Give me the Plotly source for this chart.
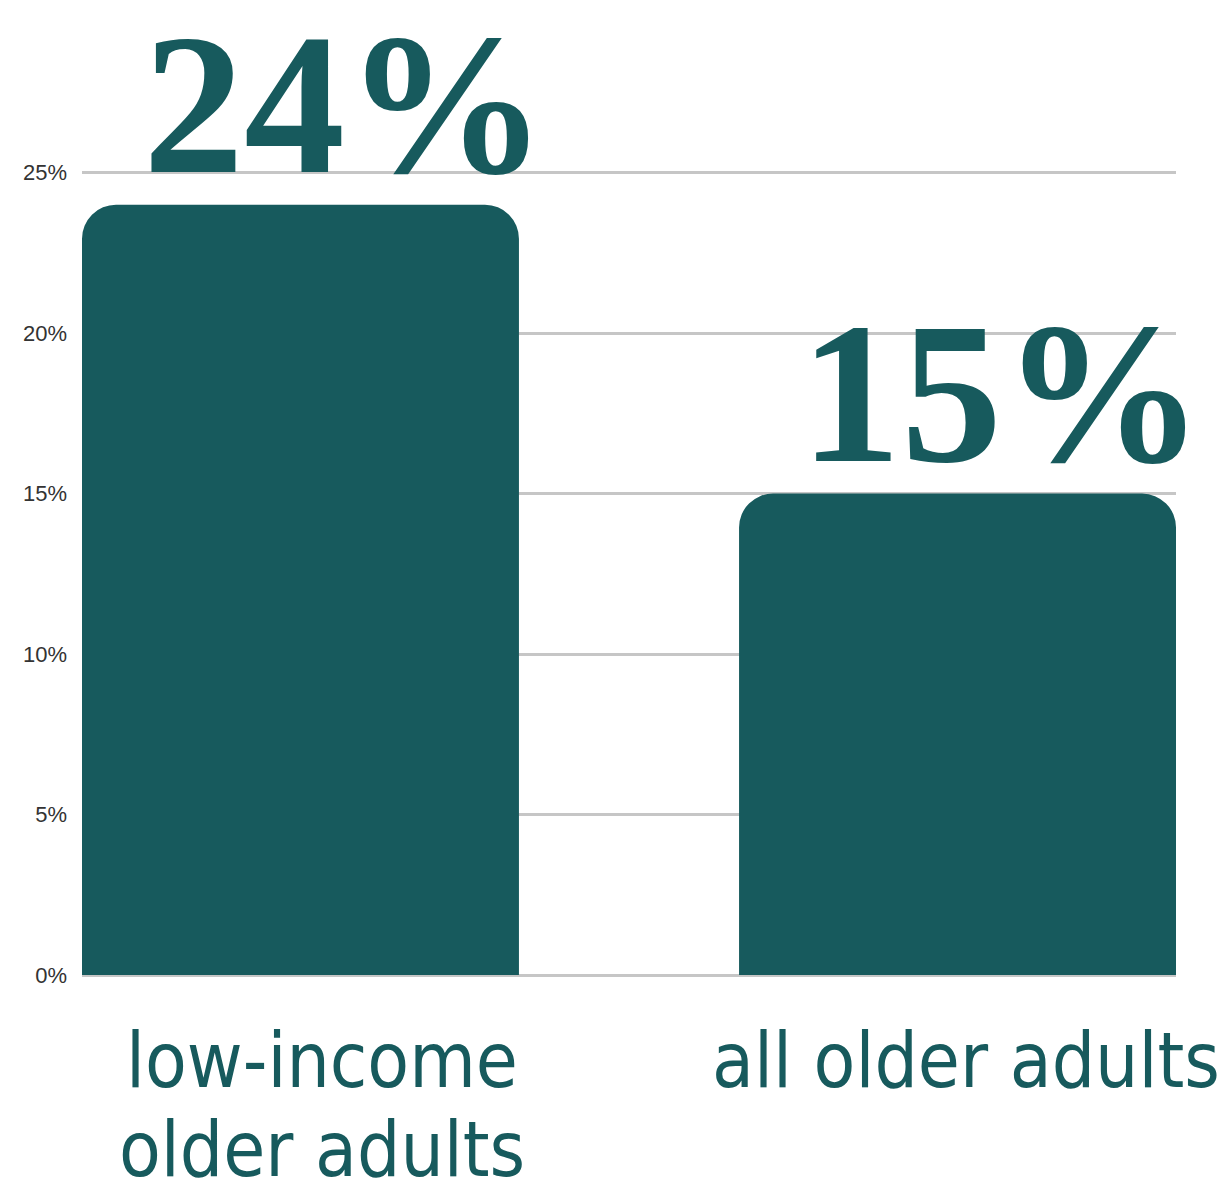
import plotly.graph_objects as go

# Share of older adults, by group (percent)
categories = ["low-income older adults", "all older adults"]
values = [24, 15]
label_lines = [["low-income", "older adults"], ["all older adults"]]
y_ticks = [0, 5, 10, 15, 20, 25]
y_tick_labels = ["0%", "5%", "10%", "15%", "20%", "25%"]

TEAL = "#175a5d"
GRID = "#c6c6c6"
BAR_WIDTH = 0.665  # in category units; bars run flush to the plot edges

fig = go.Figure(
    go.Bar(
        x=list(range(len(categories))),
        y=values,
        width=BAR_WIDTH,
        marker=dict(color=TEAL, cornerradius=34, line=dict(width=0)),
        hovertext=categories,
        showlegend=False,
    )
)

annotations = []
half = BAR_WIDTH / 2
for i, v in enumerate(values):
    # large value label, left-aligned near the bar's left edge
    annotations.append(dict(
        x=i - half, y=v, xref="x", yref="y",
        text=f"{v}%", showarrow=False, borderpad=0,
        xanchor="left", yanchor="bottom", xshift=60, yshift=-12,
        font=dict(family="Liberation Serif", size=202, color=TEAL, weight="bold"),
    ))
    # category label under the bar, one annotation per line
    for j, line in enumerate(label_lines[i]):
        annotations.append(dict(
            x=i, y=0, xref="x", yref="paper",
            text=line, showarrow=False, borderpad=0,
            xanchor="center", yanchor="top", xshift=22 if i == 0 else 8,
            yshift=-40 - 89 * j,
            font=dict(family="DejaVu Sans Condensed", size=76, color=TEAL),
        ))

fig.update_layout(
    width=1222, height=1188,
    margin=dict(l=82, r=46, t=171, b=213),
    paper_bgcolor="white", plot_bgcolor="white",
    annotations=annotations,
    xaxis=dict(
        range=[-half, len(categories) - 1 + half],
        showticklabels=False, showgrid=False, zeroline=False, ticks="",
    ),
    yaxis=dict(
        range=[0, 25.05], tickvals=y_ticks, ticktext=y_tick_labels,
        showgrid=True, gridcolor=GRID, gridwidth=2.5,
        zeroline=True, zerolinecolor=GRID, zerolinewidth=2.5,
        ticks="", ticklabelstandoff=14,
        tickfont=dict(family="Liberation Sans, Arial", size=22, color="#333333"),
    ),
)

fig.write_html("out.html")
